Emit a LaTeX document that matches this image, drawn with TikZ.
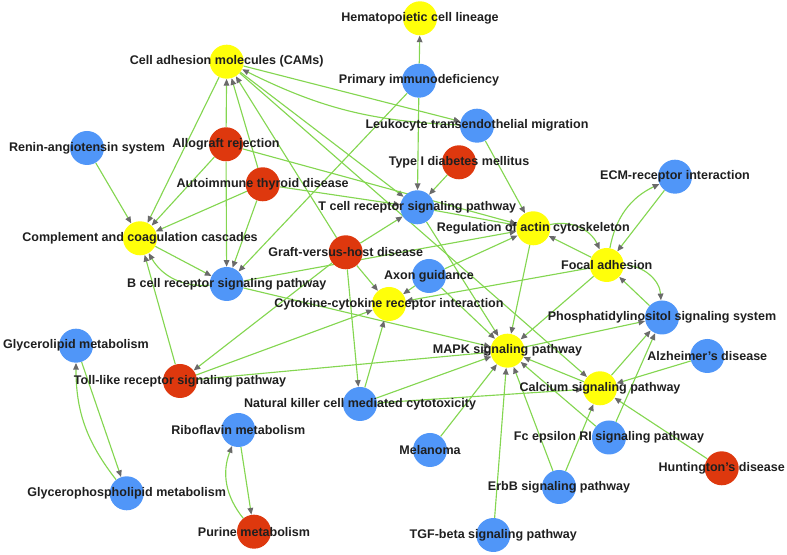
\documentclass[tikz,border=0pt]{standalone}
\usepackage{fontspec}
\setmainfont{Liberation Sans}
\usetikzlibrary{arrows.meta,backgrounds}
\definecolor{nyel}{HTML}{FFFF0A}
\definecolor{nblu}{HTML}{5096F8}
\definecolor{nred}{HTML}{DE380E}
\definecolor{edg}{HTML}{84D651}
\definecolor{tipc}{HTML}{6A6A6A}
\begin{document}
\begin{tikzpicture}[x=0.75pt,y=0.75pt,
  nd/.style={circle,minimum size=25.5pt,inner sep=0pt,draw=none},
  yel/.style={nd,fill=nyel},
  blu/.style={nd,fill=nblu},
  red/.style={nd,fill=nred},
  lbl/.style={font=\bfseries\fontsize{9.4}{10}\selectfont,text=black!88,inner sep=0pt},
  ed/.style={draw=edg,line width=0.85pt,-{Triangle[length=5pt,width=4.2pt,color=tipc]}}]
\useasboundingbox (0,0) rectangle (787,555);
% nodes (circles)
\node[yel] (HCL) at (420,536.7) {};
\node[yel] (CAMs) at (226.7,493.3) {};
\node[blu] (PI) at (419,474.3) {};
\node[blu] (LTM) at (477,429.3) {};
\node[blu] (RAS) at (87,407) {};
\node[red] (AR) at (226,410.7) {};
\node[red] (T1D) at (459,392.7) {};
\node[red] (ATD) at (262.7,370.7) {};
\node[blu] (ECM) at (675,378.3) {};
\node[blu] (TCR) at (417.3,347.7) {};
\node[yel] (RAC) at (533.3,326.7) {};
\node[yel] (CCC) at (140,316.7) {};
\node[red] (GVHD) at (345.7,302.7) {};
\node[yel] (FA) at (606.7,290) {};
\node[blu] (BCR) at (226.7,271) {};
\node[blu] (AG) at (429,279) {};
\node[yel] (CCR) at (389,251) {};
\node[blu] (PIS) at (662,237.5) {};
\node[blu] (GLM) at (76,209.3) {};
\node[yel] (MAPK) at (507.5,204.3) {};
\node[blu] (AD) at (707.3,199) {};
\node[red] (TLR) at (180,174) {};
\node[yel] (CSP) at (600,166.7) {};
\node[blu] (NK) at (360,151) {};
\node[blu] (RM) at (238.3,125) {};
\node[blu] (FcE) at (609,117.5) {};
\node[blu] (MEL) at (430,105) {};
\node[red] (HD) at (721.7,86.7) {};
\node[blu] (ErbB) at (559,68) {};
\node[blu] (GPM) at (126.7,61.7) {};
\node[red] (PM) at (254,23.3) {};
\node[blu] (TGF) at (493.3,20) {};
% edges
\begin{scope}[on background layer]
\draw[ed] (PI) -- (HCL);
\draw[ed] (PI) -- (TCR);
\draw[ed] (PI) -- (BCR);
\draw[ed] (T1D) -- (TCR);
\draw[ed] (CAMs) -- (CCC);
\draw[ed] (AR) -- (CAMs);
\draw[ed] (ATD) -- (CAMs);
\draw[ed] (GVHD) -- (CAMs);
\draw[ed] (CAMs) -- (LTM);
\draw[ed] (LTM) to[bend left=12] (CAMs);
\draw[ed] (CAMs) -- (TCR);
\draw[ed] (CAMs) -- (CSP);
\draw[ed] (LTM) -- (RAC);
\draw[ed] (AR) -- (CCC);
\draw[ed] (AR) -- (BCR);
\draw[ed] (AR) -- (RAC);
\draw[ed] (ATD) -- (CCC);
\draw[ed] (ATD) -- (BCR);
\draw[ed] (ATD) -- (TCR);
\draw[ed] (RAS) -- (CCC);
\draw[ed] (CCC) -- (BCR);
\draw[ed] (BCR) to[bend left=32] (CCC);
\draw[ed] (TLR) -- (CCC);
\draw[ed] (GVHD) -- (TLR);
\draw[ed] (TLR) -- (CCR);
\draw[ed] (TLR) -- (MAPK);
\draw[ed] (GVHD) -- (TCR);
\draw[ed] (GVHD) -- (CCR);
\draw[ed] (GVHD) -- (NK);
\draw[ed] (BCR) -- (RAC);
\draw[ed] (BCR) -- (MAPK);
\draw[ed] (TCR) -- (RAC);
\draw[ed] (TCR) -- (MAPK);
\draw[ed] (AG) -- (CCR);
\draw[ed] (AG) -- (RAC);
\draw[ed] (AG) -- (MAPK);
\draw[ed] (FA) -- (CCR);
\draw[ed] (FA) -- (RAC);
\draw[ed] (RAC) to[bend left=39] (FA);
\draw[ed] (RAC) -- (MAPK);
\draw[ed] (FA) to[bend left=27] (ECM);
\draw[ed] (ECM) -- (FA);
\draw[ed] (FA) to[bend left=43] (PIS);
\draw[ed] (PIS) -- (FA);
\draw[ed] (FA) -- (MAPK);
\draw[ed] (MAPK) -- (PIS);
\draw[ed] (CSP) -- (MAPK);
\draw[ed] (CSP) -- (PIS);
\draw[ed] (FcE) -- (PIS);
\draw[ed] (FcE) -- (MAPK);
\draw[ed] (ErbB) -- (MAPK);
\draw[ed] (ErbB) -- (CSP);
\draw[ed] (TGF) -- (MAPK);
\draw[ed] (MEL) -- (MAPK);
\draw[ed] (HD) -- (CSP);
\draw[ed] (AD) -- (CSP);
\draw[ed] (NK) -- (MAPK);
\draw[ed] (NK) -- (CCR);
\draw[ed] (NK) -- (CSP);
\draw[ed] (GLM) -- (GPM);
\draw[ed] (GPM) to[bend left=19] (GLM);
\draw[ed] (RM) -- (PM);
\draw[ed] (PM) to[bend left=30] (RM);
\end{scope}
% labels
\node[lbl] (HCLt) at (HCL) {Hematopoietic cell lineage};
\node[lbl] (CAMst) at (CAMs) {Cell adhesion molecules (CAMs)};
\node[lbl] (PIt) at (PI) {Primary immunodeficiency};
\node[lbl] (LTMt) at (LTM) {Leukocyte transendothelial migration};
\node[lbl] (RASt) at (RAS) {Renin-angiotensin system};
\node[lbl] (ARt) at (AR) {Allograft rejection};
\node[lbl] (T1Dt) at (T1D) {Type I diabetes mellitus};
\node[lbl] (ATDt) at (ATD) {Autoimmune thyroid disease};
\node[lbl] (ECMt) at (ECM) {ECM-receptor interaction};
\node[lbl] (TCRt) at (TCR) {T cell receptor signaling pathway};
\node[lbl] (RACt) at (RAC) {Regulation of actin cytoskeleton};
\node[lbl] (CCCt) at (CCC) {Complement and coagulation cascades};
\node[lbl] (GVHDt) at (GVHD) {Graft-versus-host disease};
\node[lbl] (FAt) at (FA) {Focal adhesion};
\node[lbl] (BCRt) at (BCR) {B cell receptor signaling pathway};
\node[lbl] (AGt) at (AG) {Axon guidance};
\node[lbl] (CCRt) at (CCR) {Cytokine-cytokine receptor interaction};
\node[lbl] (PISt) at (PIS) {Phosphatidylinositol signaling system};
\node[lbl] (GLMt) at (GLM) {Glycerolipid metabolism};
\node[lbl] (MAPKt) at (MAPK) {MAPK signaling pathway};
\node[lbl] (ADt) at (AD) {Alzheimer's disease};
\node[lbl] (TLRt) at (TLR) {Toll-like receptor signaling pathway};
\node[lbl] (CSPt) at (CSP) {Calcium signaling pathway};
\node[lbl] (NKt) at (NK) {Natural killer cell mediated cytotoxicity};
\node[lbl] (RMt) at (RM) {Riboflavin metabolism};
\node[lbl] (FcEt) at (FcE) {Fc epsilon RI signaling pathway};
\node[lbl] (MELt) at (MEL) {Melanoma};
\node[lbl] (HDt) at (HD) {Huntington's disease};
\node[lbl] (ErbBt) at (ErbB) {ErbB signaling pathway};
\node[lbl] (GPMt) at (GPM) {Glycerophospholipid metabolism};
\node[lbl] (PMt) at (PM) {Purine metabolism};
\node[lbl] (TGFt) at (TGF) {TGF-beta signaling pathway};
\end{tikzpicture}
\end{document}
